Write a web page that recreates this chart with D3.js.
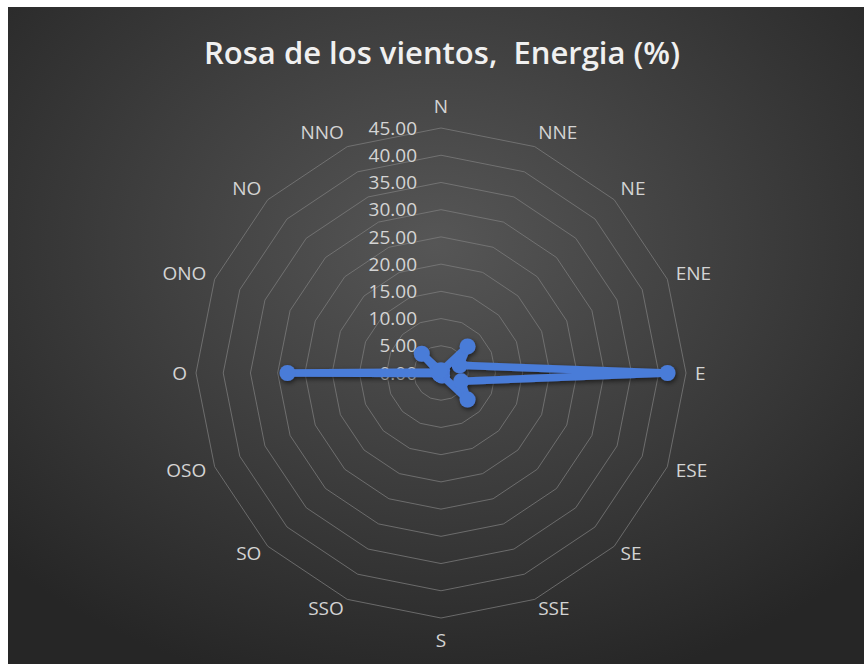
<!DOCTYPE html>
<html>
<head>
<meta charset="utf-8">
<script src="https://cdn.jsdelivr.net/npm/d3@7"></script>
<style>
  html, body { margin: 0; padding: 0; background: #ffffff; }
  svg { display: block; }
</style>
</head>
<body>
<svg id="chart" width="864" height="664"></svg>
<script>
// Wind directions, clockwise from north
const directions = ["N", "NNE", "NE", "ENE", "E", "ESE", "SE", "SSE",
                    "S", "SSO", "SO", "OSO", "O", "ONO", "NO", "NNO"];
// Energy share per direction (%)
const energy = [0.4, 0.5, 6.9, 3.7, 41.6, 4.0, 6.9, 0.5,
                0.3, 0.3, 0.3, 0.3, 28.2, 0.5, 5.0, 0.5];
// Radial axis ticks
const tickValues = [0, 5, 10, 15, 20, 25, 30, 35, 40, 45];
const titleText = "Rosa de los vientos,  Energia (%)";

const W = 864, H = 664;
const cx = 441, cy = 373, R = 245;
const FONT = "'Open Sans', 'Noto Sans', sans-serif";
const svg = d3.select("#chart");
const defs = svg.append("defs");

// Dark radial background
const grad = defs.append("radialGradient")
  .attr("id", "bg").attr("cx", "50%").attr("cy", "36%").attr("r", "70%");
grad.append("stop").attr("offset", "0%").attr("stop-color", "#565656");
grad.append("stop").attr("offset", "100%").attr("stop-color", "#262626");

const shadow = defs.append("filter").attr("id", "shadow")
  .attr("x", "-20%").attr("y", "-20%").attr("width", "140%").attr("height", "140%");
shadow.append("feDropShadow").attr("dx", 1).attr("dy", 2).attr("stdDeviation", 2.5)
  .attr("flood-color", "#000").attr("flood-opacity", 0.6);

svg.append("rect").attr("x", 8).attr("y", 7).attr("width", W - 8).attr("height", H - 7)
  .attr("fill", "url(#bg)");

// Title, squeezed horizontally to a fixed width
const title = svg.append("text")
  .attr("x", 0).attr("y", 0)
  .attr("text-anchor", "middle")
  .attr("fill", "#f0f0f0")
  .attr("font-family", FONT)
  .attr("font-weight", 600)
  .attr("font-size", 31)
  .style("white-space", "pre")
  .text(titleText);
const tw = title.node().getComputedTextLength();
title.attr("transform", `translate(442,64) scale(${476 / tw},1)`);

const angle = d3.scalePoint().domain(directions).range([0, 2 * Math.PI * (directions.length - 1) / directions.length]);
const r = d3.scaleLinear().domain([0, 45]).range([0, R]);

const pt = (dir, v) => {
  const a = angle(dir);
  return [cx + Math.sin(a) * r(v), cy - Math.cos(a) * r(v)];
};

// Grid rings
const ringLine = d3.line().curve(d3.curveLinearClosed);
svg.append("g").selectAll("path")
  .data(tickValues.filter(t => t > 0))
  .join("path")
  .attr("d", t => ringLine(directions.map(d => pt(d, t))))
  .attr("fill", "none")
  .attr("stroke", "#7d7d7d")
  .attr("stroke-opacity", 0.75)
  .attr("stroke-width", 1);

// Radial tick labels
svg.append("g").selectAll("text")
  .data(tickValues)
  .join("text")
  .attr("x", cx - 24)
  .attr("y", t => cy - r(t))
  .attr("dy", "0.35em")
  .attr("text-anchor", "end")
  .attr("fill", "#d4d4d4")
  .attr("font-family", FONT)
  .attr("font-size", 19)
  .text(t => d3.format(".2f")(t));

// Direction labels, set just outside the outer ring
svg.append("g").selectAll("text")
  .data(directions)
  .join("text")
  .each(function (d) {
    const a = angle(d);
    const s = Math.sin(a), c = Math.cos(a);
    const [vx, vy] = pt(d, 45);
    const k = Math.abs(c) > 0.99 ? 22 : (c > 0 ? 16 : 10);
    const x = vx + s * 9;
    const y = vy - c * k;
    const anchor = s > 0.1 ? "start" : (s < -0.1 ? "end" : "middle");
    d3.select(this)
      .attr("x", x).attr("y", y)
      .attr("dy", "0.35em")
      .attr("text-anchor", anchor);
  })
  .attr("fill", "#d4d4d4")
  .attr("font-family", FONT)
  .attr("font-size", 19)
  .text(d => d);

// Series line and markers
const series = svg.append("g").attr("filter", "url(#shadow)");
const pts = directions.map((d, i) => pt(d, energy[i]));
series.append("path")
  .attr("d", ringLine(pts))
  .attr("fill", "none")
  .attr("stroke", "#4a7bd8")
  .attr("stroke-width", 7.5)
  .attr("stroke-linejoin", "round");
series.selectAll("circle")
  .data(pts)
  .join("circle")
  .attr("cx", p => p[0]).attr("cy", p => p[1])
  .attr("r", 8)
  .attr("fill", "#4a7bd8");
</script>
</body>
</html>
